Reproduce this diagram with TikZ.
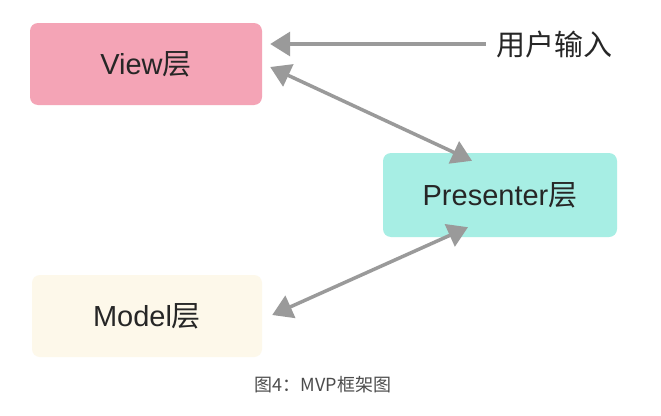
\documentclass[tikz,border=0pt]{standalone}
\usepackage{fontspec}
\setmainfont{Liberation Sans}
\newfontfamily\cjk{Noto Sans CJK SC}
\usetikzlibrary{arrows.meta}
\definecolor{viewpink}{HTML}{F4A4B6}
\definecolor{presentercyan}{HTML}{A7EEE4}
\definecolor{modelcream}{HTML}{FDF8EA}
\definecolor{arrowgray}{HTML}{9A9A9A}
\definecolor{textdark}{HTML}{262626}
\tikzset{layer/.style={fill=#1,rounded corners=8pt,minimum height=82pt,minimum width=232pt,
	text=textdark,font=\fontsize{29}{32}\selectfont},layer/.default=white}
\tikzset{flow/.style={draw=arrowgray,line width=3.5pt,-{Triangle[length=20pt,width=24pt]}}}
\tikzset{bothflow/.style={flow,{Triangle[length=20pt,width=24pt]}-{Triangle[length=20pt,width=24pt]}}}

\begin{document}
\begin{tikzpicture}[x=1pt,y=-1pt]
	\useasboundingbox[fill=white] (0,0) rectangle (661,415);

	% As camadas
	\node [layer=viewpink] (view) at (146,64) {View{\cjk 层}};
	\node [layer=presentercyan,minimum width=234pt,minimum height=84pt] (presenter) at (500,195) {Presenter{\cjk 层}};
	\node [layer=modelcream,minimum width=230pt] (model) at (147,316) {Model{\cjk 层}};

	% Entrada do usuario
	\node [text=textdark,font=\cjk\fontsize{29}{32}\selectfont,inner sep=0pt] (input) at (554,44) {用户输入};
	\draw [flow] ([xshift=-10pt]input.west) -- ([xshift=8pt]view.east |- input.west);

	% Ligacoes com o presenter
	\draw [bothflow] ([xshift=8pt,yshift=-3pt]view.east) -- ([xshift=-28pt,yshift=-8pt]presenter.north);
	\draw [bothflow] ([xshift=10pt,yshift=1pt]model.east) -- ([xshift=-32pt,yshift=10pt]presenter.south);

	% Legenda
	\node [text=black!70,font=\cjk\fontsize{18}{22}\selectfont] (caption) at (323,385) {图4：MVP框架图};

\end{tikzpicture}
\end{document}
